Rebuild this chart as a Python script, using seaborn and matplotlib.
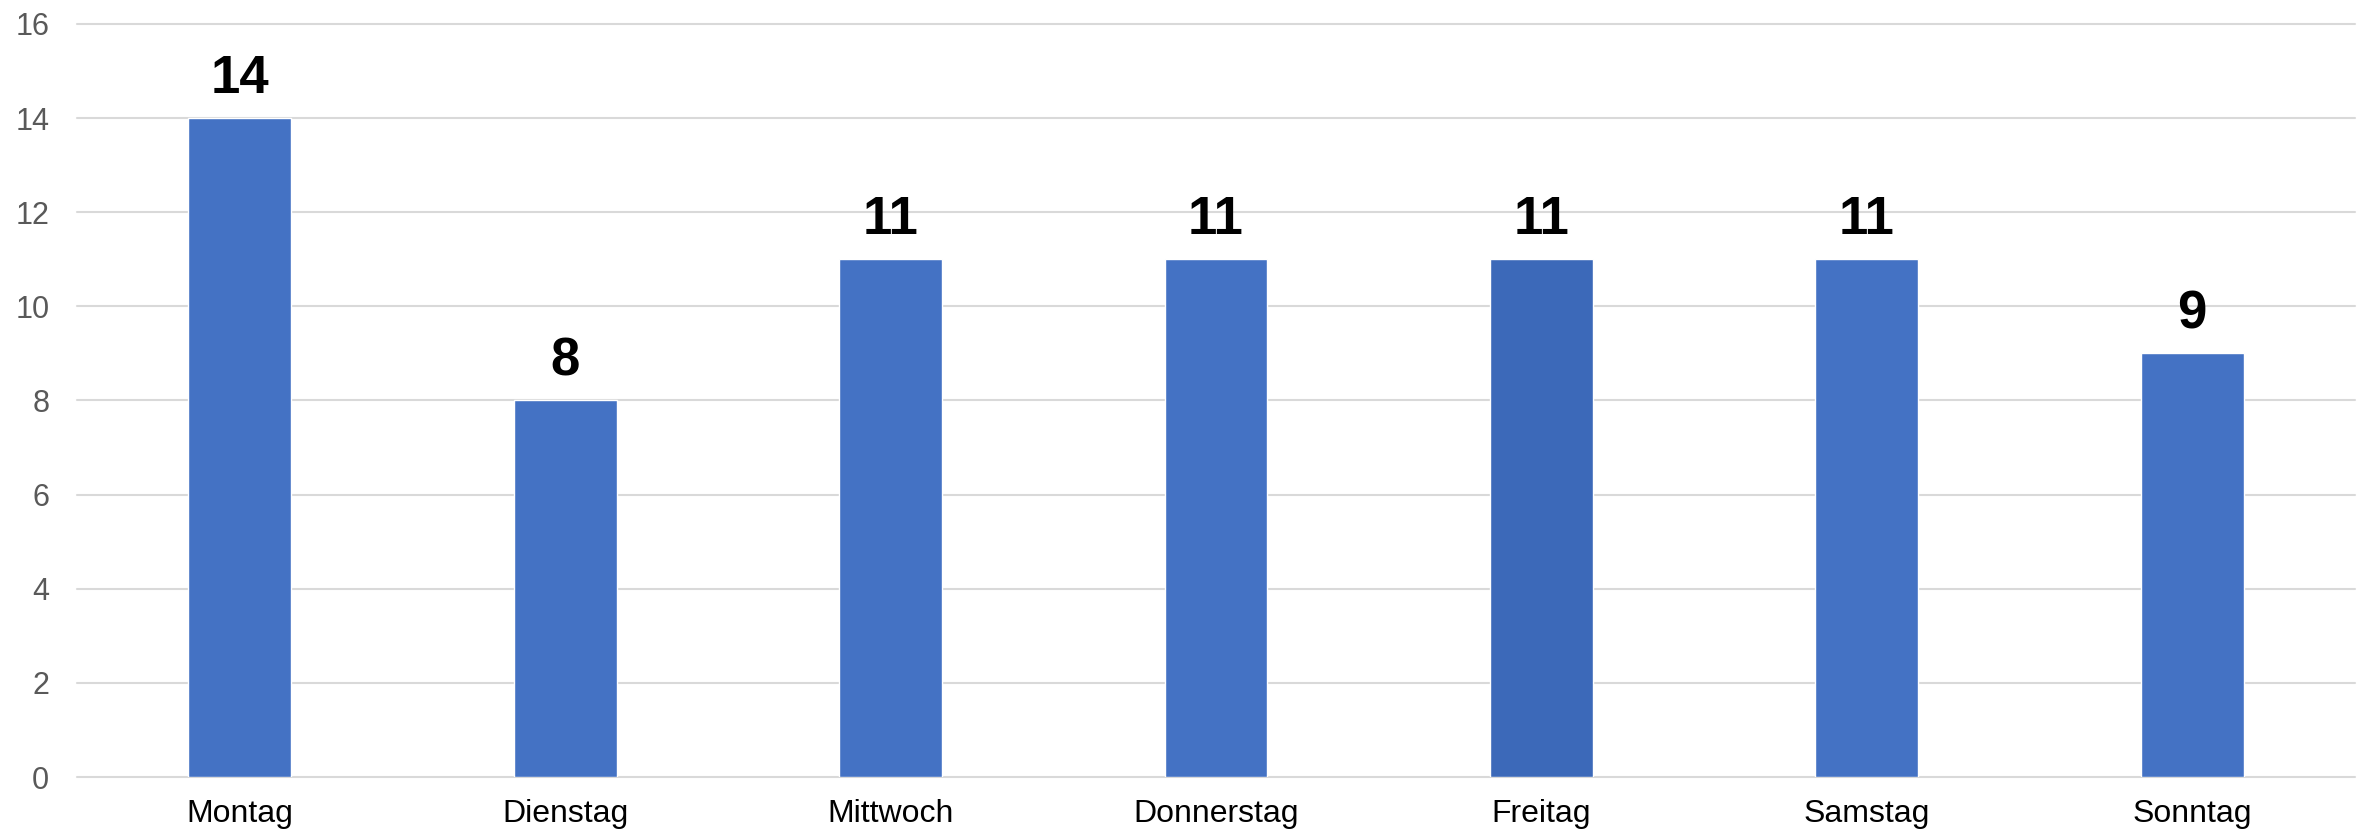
import matplotlib
matplotlib.use("Agg")
import matplotlib.pyplot as plt
import seaborn as sns
import pandas as pd

days = ["Montag", "Dienstag", "Mittwoch", "Donnerstag", "Freitag", "Samstag", "Sonntag"]
counts = [14, 8, 11, 11, 11, 11, 9]
bar_colors = ["#4472C4", "#4472C4", "#4472C4", "#4472C4", "#3C69B9", "#4472C4", "#4472C4"]
y_ticks = [0, 2, 4, 6, 8, 10, 12, 14, 16]

sns.set_theme(style="white")
plt.rcParams["font.family"] = ["Liberation Sans", "DejaVu Sans"]

df = pd.DataFrame({"day": days, "count": counts})

fig = plt.figure(figsize=(23.64, 8.32), dpi=100)
ax = fig.add_axes([0.0326, 0.0661, 0.9636, 0.9051])

sns.barplot(
    data=df, x="day", y="count", hue="day", palette=bar_colors,
    width=0.316, legend=False, ax=ax, saturation=1,
)

for container in ax.containers:
    ax.bar_label(container, padding=10, fontsize=38, fontweight="bold", color="black")

ax.set_ylim(0, 16)
ax.set_yticks(y_ticks)
ax.yaxis.grid(True, color="#D9D9D9", linewidth=1.5)
ax.set_axisbelow(True)
for spine in ax.spines.values():
    spine.set_visible(False)

ax.tick_params(axis="y", length=0, pad=20, labelsize=22, labelcolor="#595959")
ax.tick_params(axis="x", length=0, pad=16, labelsize=23, labelcolor="black")
ax.set_xlabel("")
ax.set_ylabel("")

for line in ax.get_ygridlines():
    line.set_clip_on(False)

fig.savefig("out.png", dpi=100)
